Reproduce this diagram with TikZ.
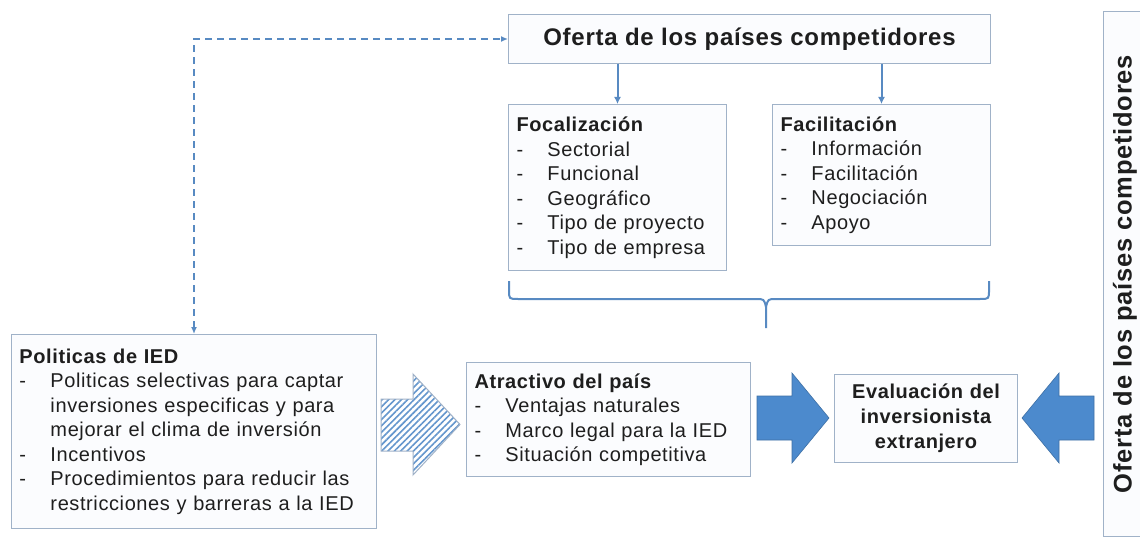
\documentclass[tikz,border=0pt]{standalone}
\usepackage{fontspec}
\setmainfont{Liberation Sans}[LetterSpace=3]
\usetikzlibrary{arrows.meta,patterns.meta}
\definecolor{boxline}{RGB}{160,178,200}
\definecolor{boxfill}{RGB}{251,252,254}
\definecolor{linkblue}{RGB}{88,138,194}
\definecolor{arrowblue}{RGB}{76,138,205}
\definecolor{arrowedge}{RGB}{62,112,165}
\definecolor{hatchblue}{RGB}{100,150,205}
\definecolor{textgray}{RGB}{30,30,30}
\newcommand{\guion}{\makebox[31pt][l]{-}}
\newcommand{\sangria}{\hspace*{31pt}}

\begin{document}
\begin{tikzpicture}[x=1pt, y=-1pt,
    box/.style={draw=boxline, fill=boxfill, line width=1pt, inner xsep=8pt, inner ysep=0pt,
      align=left, text=textgray, font=\fontsize{20pt}{24.5pt}\selectfont},
    titlebox/.style={box, align=center, font=\fontsize{24pt}{28pt}\selectfont\bfseries},
    link/.style={draw=linkblue, line width=2pt, -{Latex[length=7pt,width=7pt]}},
    dashlink/.style={draw=linkblue, line width=1.6pt, dash pattern=on 7pt off 5pt,
      {Latex[length=7pt,width=6pt]}-{Latex[length=7pt,width=6pt]}},
    bigarrow/.style={fill=arrowblue, draw=arrowedge, line width=0.6pt},
    hatcharrow/.style={draw=boxline, line width=1pt,
      pattern={Lines[angle=45,distance=4.5pt,line width=1.6pt]}, pattern color=hatchblue}]
			\fill[white] (0,0) rectangle (1140,540);
			\useasboundingbox (0,0) rectangle (1140,540);
			% cajas
			\node[titlebox, anchor=north west, minimum width=482pt, minimum height=49pt] (oferta) at (508,14) {Oferta de los países competidores};
			\node[box, anchor=north west, text width=202pt, minimum height=166pt] (foc) at (508,104) {\textbf{Focalización}\\
				\guion Sectorial\\ \guion Funcional\\ \guion Geográfico\\ \guion Tipo de proyecto\\ \guion Tipo de empresa};
			\node[box, anchor=north west, text width=202pt, minimum height=141pt] (fac) at (772,104) {\textbf{Facilitación}\\
				\guion Información\\ \guion Facilitación\\ \guion Negociación\\ \guion Apoyo};
			\node[box, anchor=north west, text width=349pt, minimum height=194pt] (pol) at (11,334) {\textbf{Politicas de IED}\\
				\guion Politicas selectivas para captar\\ \sangria inversiones especificas y para\\ \sangria mejorar el clima de inversión\\
				\guion Incentivos\\ \guion Procedimientos para reducir las\\ \sangria restricciones y barreras a la IED};
			\node[box, anchor=north west, text width=268pt, minimum height=114pt] (atr) at (466,362) {\textbf{Atractivo del país}\\
				\guion Ventajas naturales\\ \guion Marco legal para la IED\\ \guion Situación competitiva};
			\node[box, anchor=north west, align=center, text width=167pt, minimum height=88pt, font=\fontsize{20pt}{25pt}\selectfont\bfseries] (eva) at (834,374) {Evaluación del\\ inversionista\\ extranjero};
			\node[titlebox, rotate=90, minimum width=525pt, minimum height=44pt, font=\fontsize{25.5pt}{30pt}\selectfont\bfseries] (ofertav) at (1125,274) {Oferta de los países competidores};
			% conectores
			\draw[link] (oferta.south -| foc.north) -- (foc.north);
			\draw[link] (oferta.south -| fac.north) -- (fac.north);
			\draw[dashlink] (pol.north) |- (oferta.west);
			\draw[draw=linkblue, line width=2pt] (509,281) -- (509,290) .. controls (509,299) .. (518,299) -- (756,299) .. controls (764,299) .. (766,307) -- (766,328);
			\draw[draw=linkblue, line width=2pt] (989,281) -- (989,290) .. controls (989,299) .. (980,299) -- (776,299) .. controls (768,299) .. (766,307);
			% flechas grandes
			\draw[hatcharrow] (381,399) -- (413,399) -- (413,374) -- (460,424.5) -- (413,475) -- (413,451) -- (381,451) -- cycle;
			\draw[bigarrow] (757,396) -- (792,396) -- (792,373) -- (829,418) -- (792,463) -- (792,440) -- (757,440) -- cycle;
			\draw[bigarrow] (1094,396) -- (1059,396) -- (1059,373) -- (1022,418) -- (1059,463) -- (1059,440) -- (1094,440) -- cycle;
\end{tikzpicture}
\end{document}
